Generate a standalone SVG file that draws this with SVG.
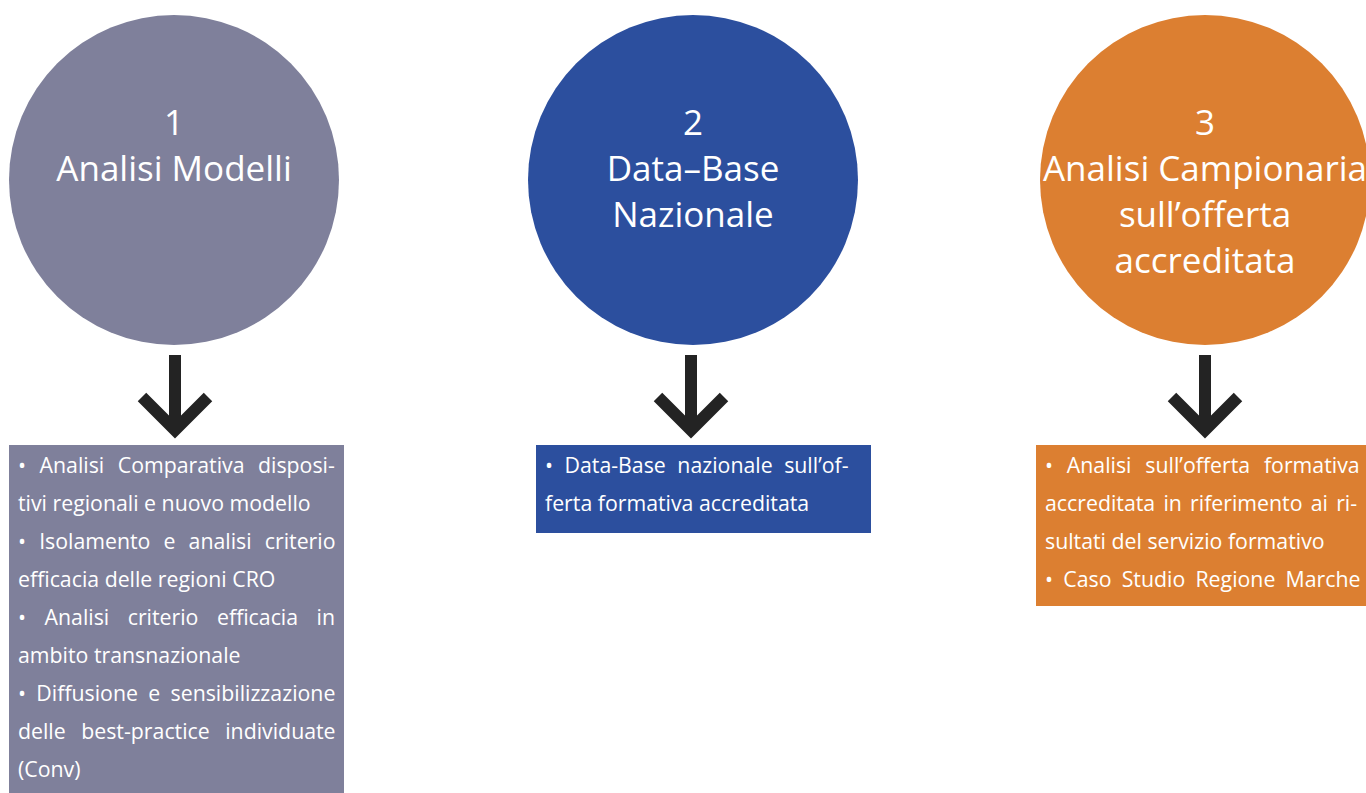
<svg xmlns="http://www.w3.org/2000/svg" width="1366" height="793" viewBox="0 0 1366 793">
<style>
.t{font-family:"Open Sans",Roboto,sans-serif;fill:#fff;font-size:35px;text-anchor:middle}
.b{font-family:"Open Sans",Roboto,sans-serif;fill:#fff;font-size:21.3px}
.arr{fill:none;stroke:#232323;stroke-width:12}
</style>
<rect width="1366" height="793" fill="#fff"/>
<g id="node1">
<circle cx="174" cy="180" r="165" fill="#7f809b"/>
<text class="t" x="174" y="135">1</text>
<text class="t" x="174" y="181">Analisi Modelli</text>
</g>
<g id="node2">
<circle cx="693" cy="180" r="165" fill="#2c4f9e"/>
<text class="t" x="693" y="135">2</text>
<text class="t" x="693" y="181">Data–Base</text>
<text class="t" x="693" y="227">Nazionale</text>
</g>
<g id="node3">
<circle cx="1205" cy="180" r="165" fill="#dc7f31"/>
<text class="t" x="1205" y="135">3</text>
<text class="t" x="1205" y="181">Analisi Campionaria</text>
<text class="t" x="1205" y="227">sull’offerta</text>
<text class="t" x="1205" y="273">accreditata</text>
</g>
<g id="connectors">
<path class="arr" d="M175 355V428M142 397L175 430L208 397"/>
<path class="arr" d="M691 355V428M658 397L691 430L724 397"/>
<path class="arr" d="M1205 355V428M1172 397L1205 430L1238 397"/>
</g>
<g id="box1">
<rect x="9" y="445" width="335" height="348" fill="#7f809b"/>
<text class="b" x="18" y="473" word-spacing="8">• Analisi Comparativa disposi-</text>
<text class="b" x="18" y="511">tivi regionali e nuovo modello</text>
<text class="b" x="18" y="549" word-spacing="7.6">• Isolamento e analisi criterio</text>
<text class="b" x="18" y="587">efficacia delle regioni CRO</text>
<text class="b" x="18" y="625" word-spacing="13">• Analisi criterio efficacia in</text>
<text class="b" x="18" y="663">ambito transnazionale</text>
<text class="b" x="18" y="701" word-spacing="4.8">• Diffusione e sensibilizzazione</text>
<text class="b" x="18" y="739" word-spacing="10">delle best-practice individuate</text>
<text class="b" x="18" y="777">(Conv)</text>
</g>
<g id="box2">
<rect x="536" y="445" width="335" height="88" fill="#2c4f9e"/>
<text class="b" x="545" y="473" word-spacing="6">• Data-Base nazionale sull’of-</text>
<text class="b" x="545" y="511">ferta formativa accreditata</text>
</g>
<g id="box3">
<rect x="1036" y="445" width="330" height="161" fill="#dc7f31"/>
<text class="b" x="1045" y="473" word-spacing="8.3">• Analisi sull’offerta formativa</text>
<text class="b" x="1045" y="511" word-spacing="2.7">accreditata in riferimento ai ri-</text>
<text class="b" x="1045" y="549">sultati del servizio formativo</text>
<text class="b" x="1045" y="587" word-spacing="4.7">• Caso Studio Regione Marche</text>
</g>
</svg>
